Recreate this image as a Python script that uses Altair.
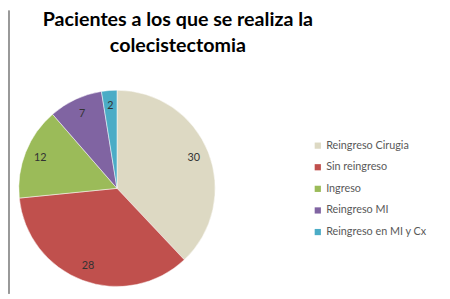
import altair as alt
import pandas as pd

categorias = ["Reingreso Cirugia", "Sin reingreso", "Ingreso", "Reingreso MI", "Reingreso en MI y Cx"]
valores = [30, 28, 12, 7, 2]
colores = ["#DDD9C3", "#C0504D", "#9BBB59", "#8064A2", "#4BACC6"]
titulo = ["Pacientes a los que se realiza la", "colecistectomia"]

df = pd.DataFrame({"categoria": categorias, "valor": valores, "orden": list(range(len(categorias)))})

color = alt.Color(
    "categoria:N",
    scale=alt.Scale(domain=categorias, range=colores),
    sort=categorias,
    legend=alt.Legend(
        title=None,
        orient="none",
        legendX=310,
        legendY=70,
        symbolType="square",
        symbolSize=40,
        symbolStrokeWidth=0,
        labelFontSize=11,
        labelFont="Lato",
        labelColor="#595959",
        rowPadding=10,
        labelOffset=3,
    ),
)

base = alt.Chart(df).encode(
    theta=alt.Theta("valor:Q", stack=True),
    order=alt.Order("orden:Q"),
)

pie = base.mark_arc(outerRadius=100, stroke="#ffffff", strokeWidth=0.5).encode(
    color=color,
    x=alt.value(111),
    y=alt.value(119),
)

labels = base.mark_text(radius=84, fontSize=11, font="Lato", color="#333333").encode(
    text="valor:Q",
    x=alt.value(111),
    y=alt.value(119),
)

borde = alt.Chart(df).mark_rule(color="#9a9a9a", strokeWidth=1.5, clip=False).encode(
    x=alt.value(1),
    y=alt.value(-62),
    y2=alt.value(226),
)

chart = alt.layer(pie, labels, borde).properties(
    width=442,
    height=229,
    autosize=alt.AutoSizeParams(type="none"),
    padding={"left": 0, "right": 0, "top": 62, "bottom": 0},
    title=alt.TitleParams(
        text=titulo,
        font="Lato",
        fontSize=20,
        fontWeight="bold",
        color="#000000",
        anchor="middle",
        frame="group",
        dx=-48,
        dy=51,
        lineHeight=27,
    ),
).configure_view(strokeWidth=0)

chart.save("out.html", embed_options={"renderer": "svg", "actions": False})
